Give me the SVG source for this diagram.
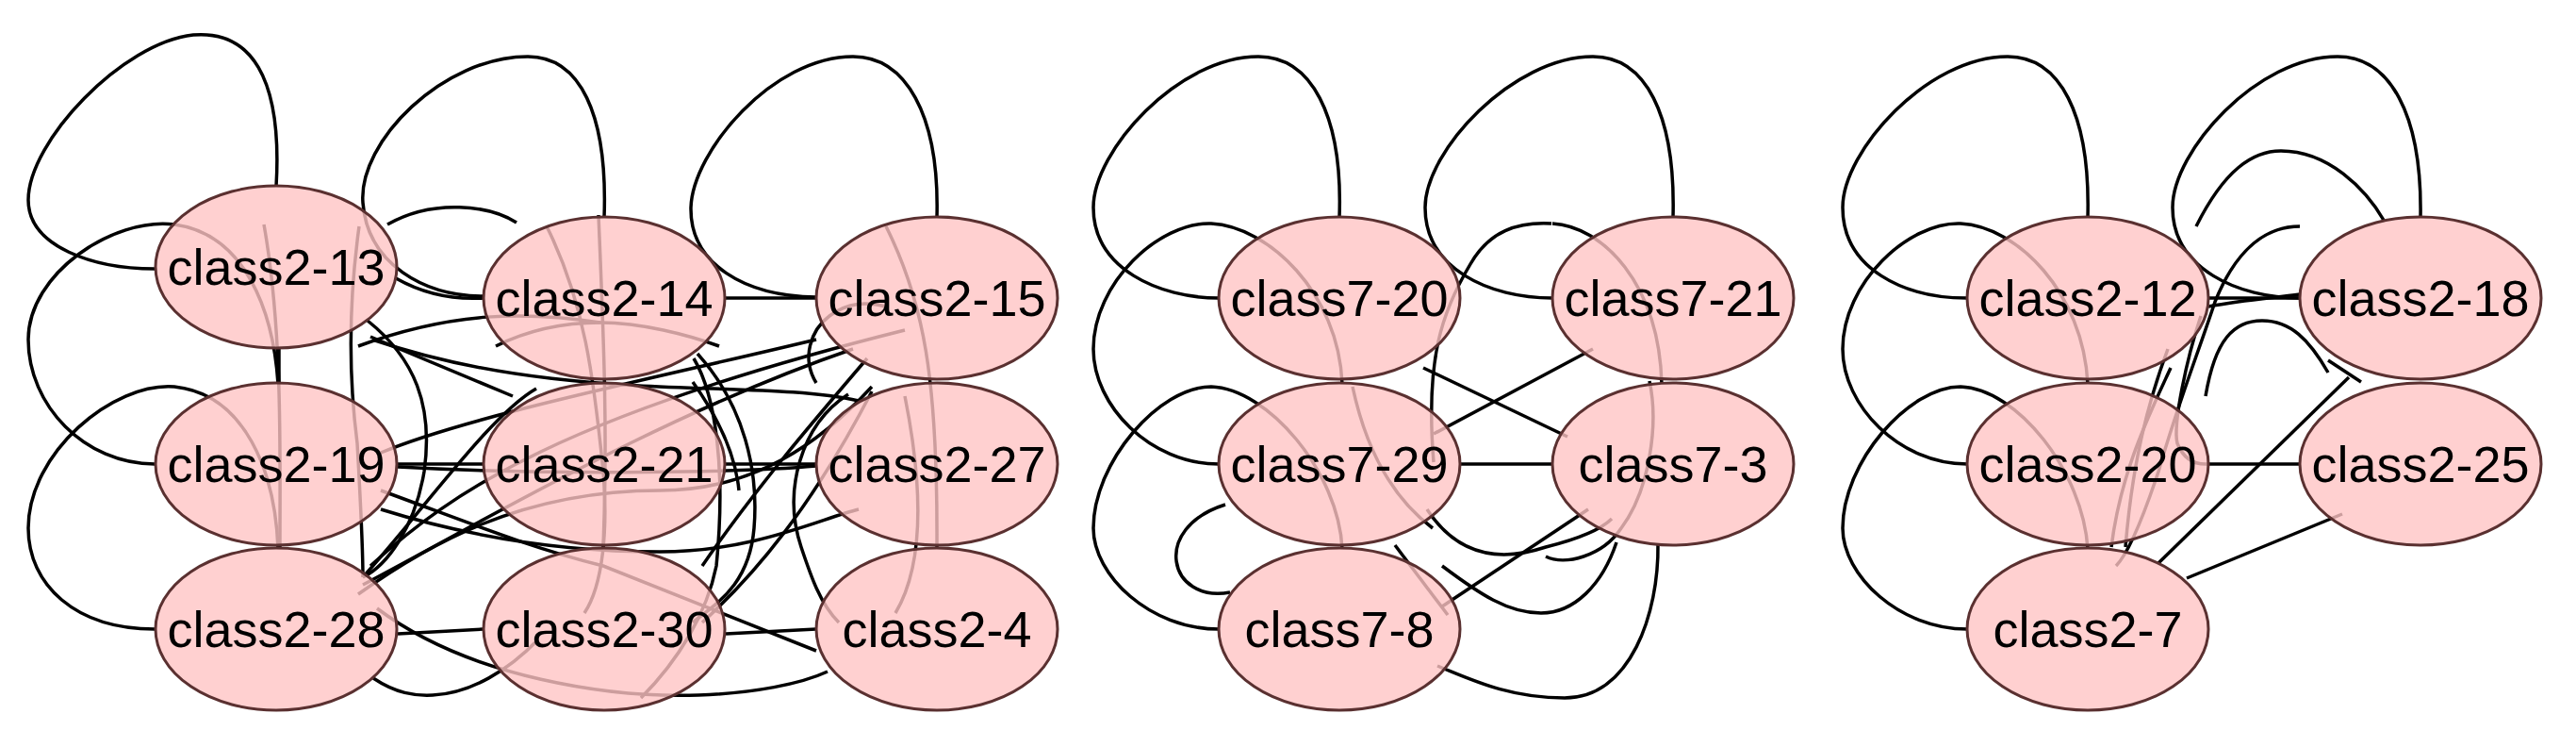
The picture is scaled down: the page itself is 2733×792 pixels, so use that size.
<svg xmlns="http://www.w3.org/2000/svg" width="2733" height="792" viewBox="0 0 2733 792">
<style>
.e{fill:none;stroke:#000;stroke-width:3.5}
.n{fill:#ffc4c4;fill-opacity:0.8;stroke:#5a3030;stroke-width:3}
.t{font-family:"Liberation Sans",Arial,sans-serif;font-size:54px;text-anchor:middle;fill:#000}
</style>
<rect width="2733" height="792" fill="#fff"/>
<g id="edges">
<path class="e" d="M293,198 C300,80 265,32 205,37 C130,45 30,150 30,212 C30,262 100,285 164,285"/>
<path class="e" d="M641,231 C645,120 615,60 560,60 C470,60 380,150 385,215 C390,280 450,314 513,314"/>
<path class="e" d="M994,231 C997,120 960,60 905,60 C820,60 735,160 733,220 C732,280 790,314 866,315"/>
<path class="e" d="M164,492 C90,492 30,430 30,360 C30,290 120,230 185,238 C260,248 290,330 295,407"/>
<path class="e" d="M164,667 C80,667 30,620 30,560 C30,480 120,405 185,410 C260,418 292,500 295,582"/>
<path class="e" d="M280,238 C300,350 297,480 297,580"/>
<path class="e" d="M296,369 L296,407"/>
<path class="e" d="M420,295 C450,312 480,318 513,316"/>
<path class="e" d="M393,357 L544,420"/>
<path class="e" d="M390,340 C440,380 460,430 450,500 C440,560 410,600 385,612"/>
<path class="e" d="M395,360 C600,430 800,400 911,425"/>
<path class="e" d="M411,238 C460,210 520,218 548,236"/>
<path class="e" d="M381,240 C370,320 370,400 379,470 C383,540 385,580 385,612"/>
<path class="e" d="M422,492 L512,492"/>
<path class="e" d="M770,492 L866,492"/>
<path class="e" d="M422,495 C600,505 800,500 866,494"/>
<path class="e" d="M770,316 L866,316"/>
<path class="e" d="M422,672 L513,667"/>
<path class="e" d="M770,672 L866,667"/>
<path class="e" d="M400,645 C500,720 650,740 741,737 C800,735 850,725 878,712"/>
<path class="e" d="M396,719 C420,735 440,738 459,737 C500,735 540,710 570,679"/>
<path class="e" d="M526,367 C560,350 600,342 637,342 C680,342 730,355 763,367"/>
<path class="e" d="M380,367 C480,330 560,330 637,342"/>
<path class="e" d="M635,228 C640,350 645,450 640,580"/>
<path class="e" d="M580,240 C620,320 630,400 640,500 C645,560 640,620 620,650"/>
<path class="e" d="M736,380 C760,420 770,500 760,600 C750,650 720,700 680,740"/>
<path class="e" d="M740,375 C790,430 805,500 800,560 C795,620 760,640 735,660"/>
<path class="e" d="M404,540 C500,570 600,585 700,585 C800,585 870,550 911,540"/>
<path class="e" d="M404,520 C500,555 560,580 640,600 L866,690"/>
<path class="e" d="M404,480 C500,440 700,400 866,360"/>
<path class="e" d="M385,612 C450,540 520,440 569,412"/>
<path class="e" d="M385,620 C500,560 700,440 905,370"/>
<path class="e" d="M380,630 C450,580 550,520 700,520 C800,520 870,470 925,410"/>
<path class="e" d="M393,600 C480,520 600,440 960,350"/>
<path class="e" d="M745,600 C800,520 860,450 920,380"/>
<path class="e" d="M745,660 C800,610 860,540 925,415"/>
<path class="e" d="M900,418 C850,450 830,520 850,580 C860,610 870,640 890,660"/>
<path class="e" d="M866,406 C850,380 860,350 880,335 C900,320 920,320 940,325"/>
<path class="e" d="M940,240 C980,320 995,400 994,580"/>
<path class="e" d="M960,420 C980,520 980,600 950,650"/>
<path class="e" d="M735,405 C760,440 780,480 784,520"/>
<path class="e" d="M1421,231 C1425,120 1390,60 1335,60 C1250,60 1160,160 1160,220 C1160,285 1230,316 1293,316"/>
<path class="e" d="M1775,231 C1778,120 1745,60 1690,60 C1605,60 1512,160 1512,220 C1512,285 1580,316 1647,316"/>
<path class="e" d="M1293,492 C1220,492 1160,430 1160,370 C1160,300 1230,235 1285,237 C1345,240 1420,310 1424,407"/>
<path class="e" d="M1293,667 C1220,667 1160,610 1160,560 C1160,490 1230,410 1285,410 C1345,412 1420,500 1424,582"/>
<path class="e" d="M1646,237 C1610,235 1580,245 1560,280 C1530,330 1512,380 1521,490"/>
<path class="e" d="M1647,237 C1700,240 1760,300 1763,407"/>
<path class="e" d="M1750,404 C1760,450 1750,520 1720,560 C1700,590 1660,600 1640,590"/>
<path class="e" d="M1510,390 L1663,463"/>
<path class="e" d="M1690,370 L1521,460"/>
<path class="e" d="M1549,492 L1647,492"/>
<path class="e" d="M1514,540 C1540,580 1580,600 1640,580 C1680,570 1700,560 1710,550"/>
<path class="e" d="M1300,535 C1220,560 1240,640 1305,628"/>
<path class="e" d="M1480,578 L1536,652"/>
<path class="e" d="M1530,643 L1685,540"/>
<path class="e" d="M1715,575 C1700,620 1670,650 1635,650 C1600,650 1570,630 1530,600"/>
<path class="e" d="M1759,577 C1760,650 1730,740 1660,740 C1600,740 1560,720 1525,706"/>
<path class="e" d="M1435,410 C1450,480 1480,530 1520,560"/>
<path class="e" d="M2215,231 C2218,120 2185,60 2130,60 C2045,60 1955,160 1955,220 C1955,285 2020,316 2087,316"/>
<path class="e" d="M2568,231 C2570,120 2535,60 2480,60 C2395,60 2305,160 2305,220 C2305,285 2375,316 2440,316"/>
<path class="e" d="M2087,492 C2015,492 1955,430 1955,370 C1955,300 2025,235 2080,237 C2140,240 2210,310 2215,407"/>
<path class="e" d="M2087,667 C2015,667 1955,610 1955,560 C1955,490 2025,410 2080,410 C2140,412 2210,500 2215,582"/>
<path class="e" d="M2343,316 L2440,316"/>
<path class="e" d="M2343,325 C2380,318 2410,316 2440,312"/>
<path class="e" d="M2330,240 C2360,180 2390,160 2420,160 C2470,160 2510,200 2530,235"/>
<path class="e" d="M2440,240 C2400,240 2370,270 2350,320 C2330,380 2310,430 2290,500 C2270,560 2255,590 2245,600"/>
<path class="e" d="M2340,420 C2350,360 2370,340 2400,340 C2430,340 2450,360 2470,395"/>
<path class="e" d="M2335,335 C2320,380 2305,450 2310,470 C2320,495 2340,492 2343,492"/>
<path class="e" d="M2343,492 L2440,492"/>
<path class="e" d="M2303,390 C2280,440 2250,500 2240,580"/>
<path class="e" d="M2300,370 C2270,450 2260,520 2255,580"/>
<path class="e" d="M2290,597 L2492,400"/>
<path class="e" d="M2320,613 L2485,545"/>
<path class="e" d="M2470,382 L2505,405"/>
</g>
<g id="node-class2-13"><ellipse class="n" cx="293" cy="283" rx="128" ry="86"/><text class="t" x="293" y="302">class2-13</text></g>
<g id="node-class2-14"><ellipse class="n" cx="641" cy="316" rx="128" ry="86"/><text class="t" x="641" y="335">class2-14</text></g>
<g id="node-class2-15"><ellipse class="n" cx="994" cy="316" rx="128" ry="86"/><text class="t" x="994" y="335">class2-15</text></g>
<g id="node-class2-19"><ellipse class="n" cx="293" cy="492" rx="128" ry="86"/><text class="t" x="293" y="511">class2-19</text></g>
<g id="node-class2-21"><ellipse class="n" cx="641" cy="492" rx="128" ry="86"/><text class="t" x="641" y="511">class2-21</text></g>
<g id="node-class2-27"><ellipse class="n" cx="994" cy="492" rx="128" ry="86"/><text class="t" x="994" y="511">class2-27</text></g>
<g id="node-class2-28"><ellipse class="n" cx="293" cy="667" rx="128" ry="86"/><text class="t" x="293" y="686">class2-28</text></g>
<g id="node-class2-30"><ellipse class="n" cx="641" cy="667" rx="128" ry="86"/><text class="t" x="641" y="686">class2-30</text></g>
<g id="node-class2-4"><ellipse class="n" cx="994" cy="667" rx="128" ry="86"/><text class="t" x="994" y="686">class2-4</text></g>
<g id="node-class7-20"><ellipse class="n" cx="1421" cy="316" rx="128" ry="86"/><text class="t" x="1421" y="335">class7-20</text></g>
<g id="node-class7-21"><ellipse class="n" cx="1775" cy="316" rx="128" ry="86"/><text class="t" x="1775" y="335">class7-21</text></g>
<g id="node-class7-29"><ellipse class="n" cx="1421" cy="492" rx="128" ry="86"/><text class="t" x="1421" y="511">class7-29</text></g>
<g id="node-class7-3"><ellipse class="n" cx="1775" cy="492" rx="128" ry="86"/><text class="t" x="1775" y="511">class7-3</text></g>
<g id="node-class7-8"><ellipse class="n" cx="1421" cy="667" rx="128" ry="86"/><text class="t" x="1421" y="686">class7-8</text></g>
<g id="node-class2-12"><ellipse class="n" cx="2215" cy="316" rx="128" ry="86"/><text class="t" x="2215" y="335">class2-12</text></g>
<g id="node-class2-18"><ellipse class="n" cx="2568" cy="316" rx="128" ry="86"/><text class="t" x="2568" y="335">class2-18</text></g>
<g id="node-class2-20"><ellipse class="n" cx="2215" cy="492" rx="128" ry="86"/><text class="t" x="2215" y="511">class2-20</text></g>
<g id="node-class2-25"><ellipse class="n" cx="2568" cy="492" rx="128" ry="86"/><text class="t" x="2568" y="511">class2-25</text></g>
<g id="node-class2-7"><ellipse class="n" cx="2215" cy="667" rx="128" ry="86"/><text class="t" x="2215" y="686">class2-7</text></g>
</svg>
